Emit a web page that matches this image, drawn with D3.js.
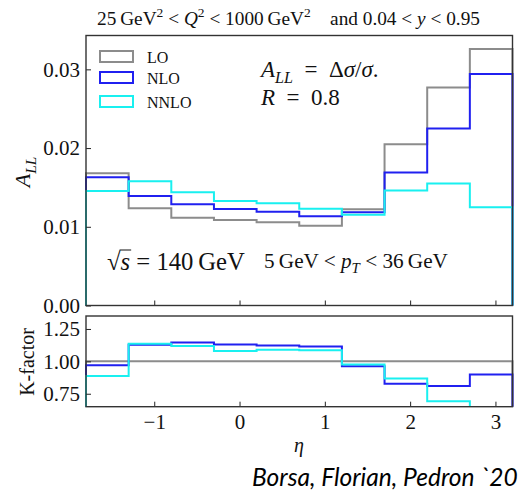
<!DOCTYPE html>
<html><head><meta charset="utf-8">
<script src="https://cdn.jsdelivr.net/npm/d3@7"></script>
<style>html,body{margin:0;padding:0;background:#fff;}svg{display:block;}</style>
</head><body>
<script>
// ---------- data ----------
const binEdges = [-1.8, -1.3, -0.8, -0.3, 0.2, 0.7, 1.2, 1.7, 2.2, 2.7, 3.2];
const seriesNames = ["LO", "NLO", "NNLO"];
const allLO   = [0.0168, 0.01235, 0.01116, 0.01087, 0.01057, 0.01014, 0.01222, 0.0205, 0.0277, 0.0326];
const allNLO  = [0.0163, 0.0139, 0.01286, 0.01226, 0.01192, 0.01133, 0.01184, 0.0169, 0.0225, 0.0294];
const allNNLO = [0.01455, 0.0158, 0.01438, 0.01328, 0.01298, 0.0123, 0.01154, 0.01462, 0.0155, 0.01248];
const kLO   = [1, 1, 1, 1, 1, 1, 1, 1, 1, 1];
const kNLO  = [0.969, 1.128, 1.146, 1.131, 1.123, 1.115, 0.962, 0.828, 0.81, 0.898];
const kNNLO = [0.887, 1.136, 1.118, 1.08, 1.09, 1.085, 0.975, 0.867, 0.692, 0.424];
const xTicks = [-1, 0, 1, 2, 3];
const yTicksMain = [0, 0.01, 0.02, 0.03];
const yTicksK = [0.75, 1.0, 1.25];

const colors = {LO: "#8c8c8c", NLO: "#2020f0", NNLO: "#19f0f0"};
const SERIF = "'Liberation Serif', 'DejaVu Serif', serif";

const W = 524, H = 499;
const L = 86, R = 512.5;
const mainTop = 35.5, mainBot = 305.5;
const kTop = 316, kBot = 406.7;

const svg = d3.select("body").append("svg").attr("width", W).attr("height", H);

const x = d3.scaleLinear().domain([-1.8, 3.2]).range([L, R]);
const yM = d3.scaleLinear().domain([0, 0.0343]).range([mainBot, mainTop]);
const yK = d3.scaleLinear().domain([0.65, 1.35]).range([kBot, kTop]);

// clip paths
const defs = svg.append("defs");
defs.append("clipPath").attr("id", "cm").append("rect")
  .attr("x", L - 2).attr("y", mainTop).attr("width", R - L + 4).attr("height", mainBot - mainTop + 2);
defs.append("clipPath").attr("id", "ck").append("rect")
  .attr("x", L - 2).attr("y", kTop).attr("width", R - L + 4).attr("height", kBot - kTop);

function stepPoints(vals) {
  const pts = [[binEdges[0], 0]];
  vals.forEach((v, i) => { pts.push([binEdges[i], v]); pts.push([binEdges[i + 1], v]); });
  pts.push([binEdges[binEdges.length - 1], 0]);
  return pts;
}

function drawHist(g, ys, vals, color) {
  const line = d3.line().x(d => x(d[0])).y(d => ys(d[1]));
  g.append("path").attr("d", line(stepPoints(vals)))
    .attr("fill", "none").attr("stroke", color).attr("stroke-width", 2)
    .attr("stroke-linejoin", "miter");
}

const gM = svg.append("g").attr("clip-path", "url(#cm)");
drawHist(gM, yM, allLO, colors.LO);
drawHist(gM, yM, allNLO, colors.NLO);
drawHist(gM, yM, allNNLO, colors.NNLO);

const gK = svg.append("g").attr("clip-path", "url(#ck)");
drawHist(gK, yK, kLO, colors.LO);
drawHist(gK, yK, kNLO, colors.NLO);
drawHist(gK, yK, kNNLO, colors.NNLO);

// ---------- axes ----------
function styleAxis(g) {
  g.select(".domain").remove();
  g.selectAll(".tick line").attr("stroke", "#222").attr("stroke-width", 1);
  g.selectAll(".tick text").attr("font-family", SERIF).attr("font-size", 21).attr("fill", "#111");
}
svg.append("g").attr("transform", `translate(0,${mainBot})`)
  .call(d3.axisBottom(x).tickValues(xTicks).tickSizeInner(-5).tickSizeOuter(0).tickFormat(""))
  .call(styleAxis);
svg.append("g").attr("transform", `translate(${L},0)`)
  .call(d3.axisLeft(yM).tickValues(yTicksMain).tickSizeInner(-5).tickSizeOuter(0).tickPadding(6).tickFormat(d3.format(".2f")))
  .call(styleAxis);
svg.append("g").attr("transform", `translate(0,${kBot})`)
  .call(d3.axisBottom(x).tickValues(xTicks).tickSizeInner(-5).tickSizeOuter(0).tickPadding(7).tickFormat(d => d < 0 ? "\u2212" + Math.abs(d) : d))
  .call(styleAxis);
svg.append("g").attr("transform", `translate(${L},0)`)
  .call(d3.axisLeft(yK).tickValues(yTicksK).tickSizeInner(-5).tickSizeOuter(0).tickPadding(6).tickFormat(d3.format(".2f")))
  .call(styleAxis);

// frames
[[mainTop, mainBot], [kTop, kBot]].forEach(([t, b]) => {
  svg.append("rect").attr("x", L).attr("y", t).attr("width", R - L).attr("height", b - t)
    .attr("fill", "none").attr("stroke", "#333").attr("stroke-width", 1.4);
});

// ---------- rich text helper ----------
function rich(parent, xx, yy, segs, fs, anchor) {
  const t = parent.append("text").attr("x", xx).attr("y", yy)
    .attr("font-family", SERIF).attr("font-size", fs).attr("fill", "#111")
    .attr("text-anchor", anchor || "start").style("white-space", "pre");
  let shift = 0;
  segs.forEach(s => {
    const ts = t.append("tspan").text(s.t);
    const target = s.sup ? -0.42 : s.sub ? 0.25 : 0;
    const dy = (target - shift) * fs;
    if (dy) ts.attr("dy", dy.toFixed(2));
    shift = target;
    if (s.sup || s.sub) ts.attr("font-size", fs * 0.7);
    if (s.it) ts.attr("font-style", "italic");
  });
  return t;
}
function fitRich(parent, xx, yy, segs, fs, targetW, anchor) {
  let t = rich(parent, xx, yy, segs, fs, anchor);
  const w = t.node().getComputedTextLength();
  t.remove();
  const nfs = fs * targetW / w;
  return rich(parent, xx, yy, segs, nfs, anchor);
}

// title
fitRich(svg, 97, 25, [
  {t: "25\u2009GeV"}, {t: "2", sup: true}, {t: " < "}, {t: "Q", it: true}, {t: "2", sup: true},
  {t: " < 1000\u2009GeV"}, {t: "2", sup: true}, {t: "\u2003and 0.04 < "}, {t: "y", it: true}, {t: " < 0.95"}
], 16, 383);

// legend
const legY = [56.5, 77.5, 101.5];
seriesNames.forEach((n, i) => {
  svg.append("rect").attr("x", 100).attr("y", legY[i] - 5.5).attr("width", 33).attr("height", 11)
    .attr("fill", "none").attr("stroke", colors[n]).attr("stroke-width", 2);
  svg.append("text").attr("x", 147).attr("y", legY[i] + 6).attr("font-family", SERIF)
    .attr("font-size", 16).attr("fill", "#111").text(n);
});

// annotations
rich(svg, 261, 77, [
  {t: "A", it: true}, {t: "LL", it: true, sub: true}, {t: "\u2002=\u2002\u0394"}, {t: "\u03c3", it: true},
  {t: "/"}, {t: "\u03c3", it: true}, {t: "."}
], 23);
rich(svg, 261, 105, [{t: "R", it: true}, {t: "\u2002=\u20020.8"}], 23);

const sq = fitRich(svg, 107, 270, [{t: "\u221a"}, {t: "s", it: true}, {t: " = 140\u2009GeV"}], 18, 138);
{
  const n = sq.node();
  const e0 = n.getExtentOfChar(0), e1 = n.getExtentOfChar(1);
  svg.append("line").attr("x1", e0.x + e0.width - 1).attr("x2", e1.x + e1.width + 1)
    .attr("y1", e0.y + 2).attr("y2", e0.y + 2).attr("stroke", "#111").attr("stroke-width", 1);
}
fitRich(svg, 264, 268, [
  {t: "5\u2009GeV < "}, {t: "p", it: true}, {t: "T", it: true, sub: true}, {t: " < 36\u2009GeV"}
], 16, 184);

// axis labels
const gy = svg.append("g").attr("transform", "translate(30,172) rotate(-90)");
rich(gy, 0, 0, [{t: "A", it: true}, {t: "LL", it: true, sub: true}], 22, "middle");
const gk = svg.append("g").attr("transform", "translate(34,362) rotate(-90)");
rich(gk, 0, 0, [{t: "K-factor"}], 20, "middle");
rich(svg, 299, 452, [{t: "\u03b7", it: true}], 20, "middle");

// footer
const ft = svg.append("text").attr("x", 252).attr("y", 486)
  .attr("font-family", "Lato, 'Open Sans', sans-serif").attr("font-style", "italic")
  .attr("font-size", 28).attr("fill", "#000").text("Borsa, Florian, Pedron `20");
{
  const w = ft.node().getComputedTextLength();
  ft.attr("font-size", 28 * 266 / w);
}
</script>
</body></html>
